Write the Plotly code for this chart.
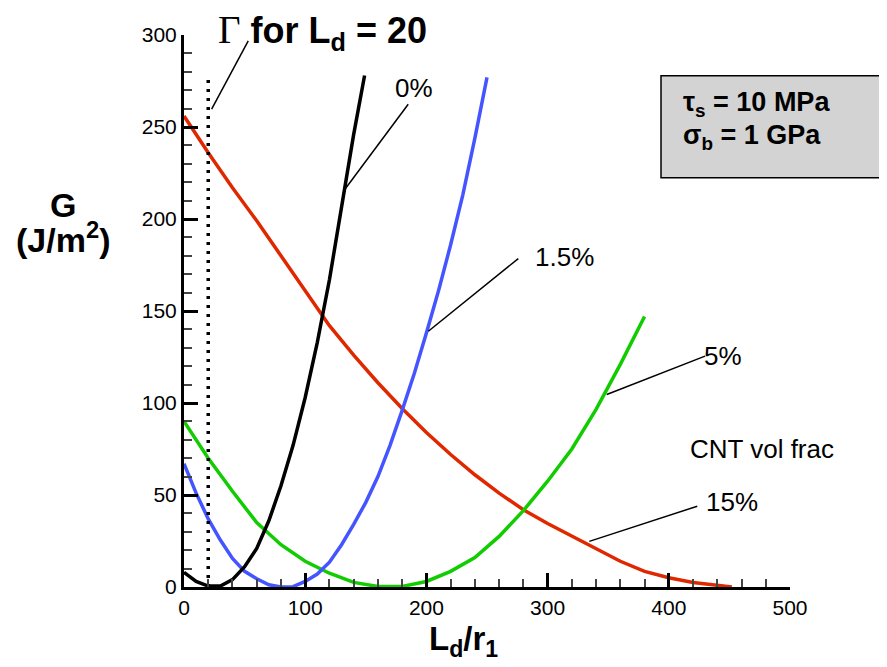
import plotly.graph_objects as go

# ---- data ----
black_x = [0, 10, 20, 30, 40, 50, 60, 70, 80, 90, 100, 110, 120, 130, 140, 149]
black_y = [8, 3, 0.5, 0.5, 4, 11, 21, 36, 55, 77, 103, 133, 167, 206, 246, 278]

blue_x = [0, 10, 20, 30, 40, 50, 60, 70, 80, 90, 100, 110, 120, 130, 140, 150,
          160, 170, 180, 190, 200, 210, 220, 230, 240, 250]
blue_y = [67, 51, 37, 25.5, 15.5, 8.5, 4.5, 1.2, 0, 0.2, 3, 7, 13.5, 23, 34, 46,
          60, 77, 96, 116, 138, 161, 186, 213, 244, 277]

green_x = [0, 20, 40, 60, 80, 100, 120, 140, 160, 180, 200, 220, 240, 260, 280,
           300, 320, 340, 360, 380]
green_y = [90, 70, 52, 35, 23, 14, 7.5, 2.5, 0.3, 0.3, 3, 8.5, 16, 27.5, 41.5,
           57.5, 75, 96.5, 121, 147]

red_x = [0, 20, 40, 60, 80, 100, 120, 140, 160, 180, 200, 220, 240, 260, 280,
         300, 320, 340, 360, 380, 400, 420, 440, 452]
red_y = [256, 236, 217, 199, 180, 161, 142, 126, 111, 97, 84, 72, 61, 51, 42,
         34.5, 27.5, 21, 14, 8.5, 5, 2.5, 0.8, 0]

gamma_x = [20, 20]
gamma_y = [0, 278]

x_ticks = [0, 100, 200, 300, 400, 500]
y_ticks = [0, 50, 100, 150, 200, 250, 300]

series_names = ["0%", "1.5%", "5%", "15%"]

# ---- layout helpers (screen pixel -> paper) ----
OFF = 8                      # page body margin of the browser
W, H = 887 - OFF, 667 - OFF
SX0, SX1 = 184, 790          # screen x of plot left / right
SY0, SY1 = 35.3, 587.3       # screen y of plot top / bottom
L = SX0 - OFF
T = round(SY0 - OFF)
PW = SX1 - SX0
PH = round(SY1 - SY0)
R = W - L - PW
B = H - T - PH


def px(xp):
    return (xp - SX0) / PW


def py(yp):
    return (SY1 - yp) / PH


FONT = "Liberation Sans, Arial, sans-serif"

fig = go.Figure()
for xs, ys, col, name in [
    (red_x, red_y, "#e02800", series_names[3]),
    (green_x, green_y, "#11cc00", series_names[2]),
    (blue_x, blue_y, "#4455ff", series_names[1]),
    (black_x, black_y, "#000000", series_names[0]),
]:
    fig.add_trace(go.Scatter(x=xs, y=ys, mode="lines", name=name,
                             line=dict(color=col, width=3.5), cliponaxis=False))

fig.add_trace(go.Scatter(x=gamma_x, y=gamma_y, mode="lines", name="Gamma",
                         line=dict(color="black", width=3.5, dash="3px,6px")))

axis_common = dict(showline=True, linewidth=3, linecolor="black", mirror=False,
                   showgrid=False, zeroline=False, ticks="inside", ticklen=14,
                   tickwidth=3, tickcolor="black",
                   tickfont=dict(family=FONT, size=21, color="black"))

fig.update_xaxes(range=[0, 500], tickvals=x_ticks, ticklabelstandoff=0,
                 minor=dict(ticks="inside", ticklen=8, tickwidth=1.5,
                            tickcolor="#444", dtick=20, tick0=0),
                 **axis_common)
fig.update_yaxes(range=[0, 300], tickvals=y_ticks, ticklabelstandoff=0,
                 minor=dict(ticks="inside", ticklen=8, tickwidth=1.5,
                            tickcolor="#444", dtick=10, tick0=0),
                 **axis_common)

shapes = []
# leader lines (annotation decoration)
for (x0, y0, x1, y1) in [(22.8, 259.7, 53, 296.8), (132.8, 216.2, 185, 262.4),
                         (201.6, 139, 275.8, 178.5), (348.8, 104.6, 429.9, 125.5),
                         (334.4, 24.8, 423.5, 43.9)]:
    shapes.append(dict(type="line", xref="x", yref="y", x0=x0, y0=y0, x1=x1, y1=y1,
                       line=dict(color="black", width=1.5)))
# parameter box
shapes.append(dict(type="rect", xref="paper", yref="paper",
                   x0=px(661), x1=px(886), y0=py(178), y1=py(76),
                   fillcolor="#d3d3d3", line=dict(color="black", width=1.5)))

annots = []


def txt(text, x, y, size, xanchor="center", yanchor="middle", family=FONT):
    annots.append(dict(text=text, x=px(x), y=py(y), xref="paper", yref="paper",
                       showarrow=False, xanchor=xanchor, yanchor=yanchor,
                       font=dict(family=family, size=size, color="black")))


txt("0%", 414, 88, 26)
txt("1.5%", 564.5, 257, 26)
txt("5%", 723, 356, 26)
txt("15%", 732, 502, 26)
txt("CNT vol frac", 762, 449, 26)
txt("<span style='font-family:Liberation Serif;font-size:39px'>Γ</span> "
    "<b>for L<sub>d</sub> = 20</b>", 216, 32, 36, xanchor="left")
txt("<b>τ<sub>s</sub> = 10 MPa</b>", 681, 104, 27, xanchor="left")
txt("<b>σ<sub>b</sub> = 1 GPa</b>", 681, 137, 27, xanchor="left")
txt("<b>G</b>", 63, 205, 34)
txt("<b>(J/m<sup>2</sup>)</b>", 63, 238, 34)
txt("<b>L<sub>d</sub>/r<sub>1</sub></b>", 427, 641, 33, xanchor="left")

fig.update_layout(width=W, height=H, margin=dict(l=L, r=R, t=T, b=B),
                  paper_bgcolor="white", plot_bgcolor="white", showlegend=False,
                  shapes=shapes, annotations=annots)

fig.write_html("out.html")
